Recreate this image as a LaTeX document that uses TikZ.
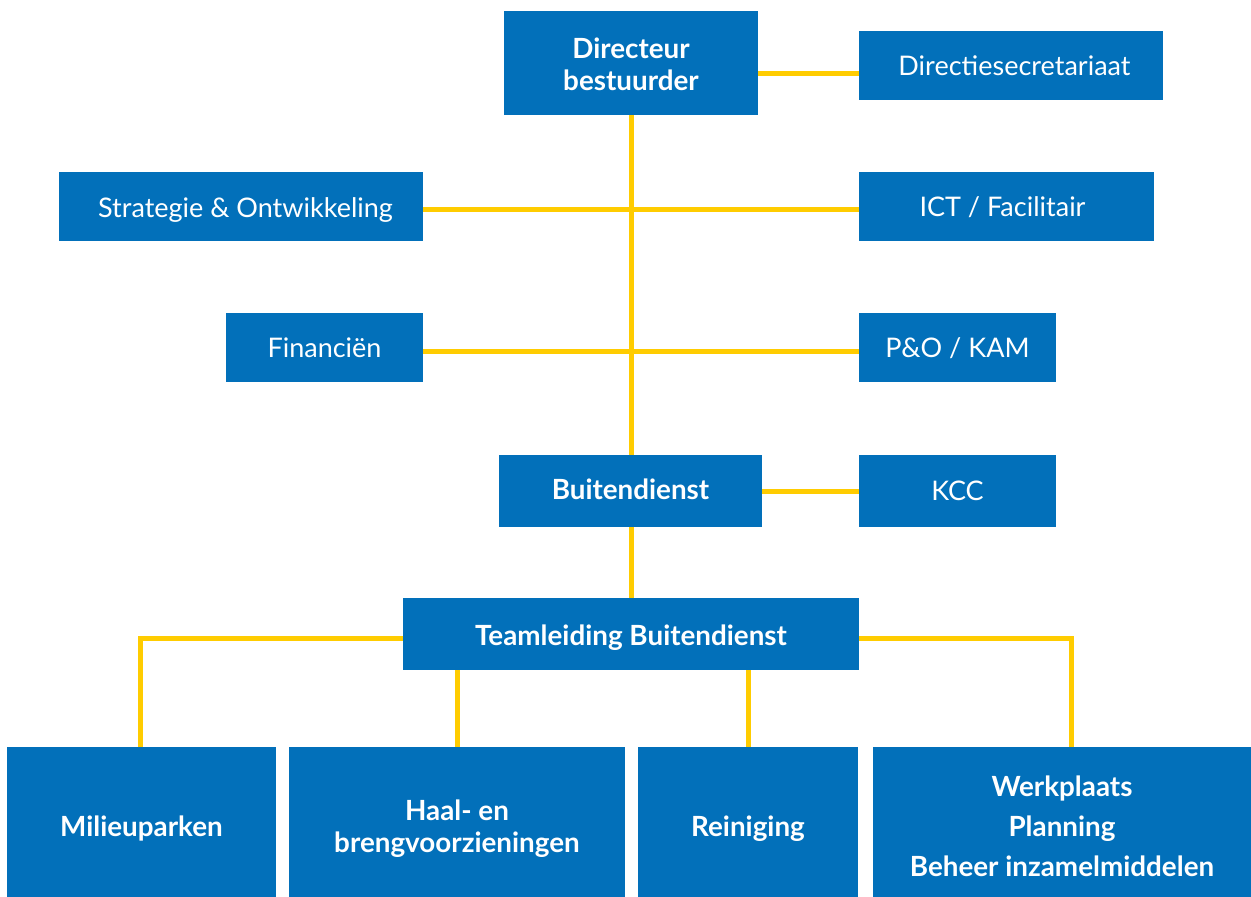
\documentclass[tikz,border=0pt]{standalone}
\usepackage{fontspec}
\setmainfont{Lato}
\definecolor{boxblue}{HTML}{0270BA}
\definecolor{lineyellow}{HTML}{FFCC00}
% \bxt{dx}{down}{lines}: text block shifted right by dx and down by 'down'
\newcommand\bxt[3]{\kern#1pt\raisebox{-#2pt}[\height][\depth]{\begin{tabular}{@{}c@{}}#3\end{tabular}}\kern-#1pt}
\begin{document}
\begin{tikzpicture}[x=1pt,y=-1pt,
  box/.style={fill=boxblue,text=white,inner sep=0pt,align=center,font=\fontsize{27}{32}\selectfont},
  bbox/.style={box,font=\fontsize{27.8}{32}\selectfont\bfseries},
  conn/.style={draw=lineyellow,line width=5pt}]
\useasboundingbox (0,0) rectangle (1251,897);
% boxes
\node[bbox,minimum width=254,minimum height=104] (dir) at (631,63) {\bxt{0}{5.2}{Directeur\\bestuurder}};
\node[box,minimum width=304,minimum height=69] (sec) at (1011,65.5) {\bxt{3.5}{3.5}{Directiesecretariaat}};
\node[box,minimum width=364,minimum height=69] (str) at (241,206.5) {\bxt{4.5}{4.6}{Strategie \& Ontwikkeling}};
\node[box,minimum width=295,minimum height=69] (ict) at (1006.5,206.5) {\bxt{-4}{3.5}{ICT / Facilitair}};
\node[box,minimum width=197,minimum height=69] (fin) at (324.5,347.5) {\bxt{0}{3.5}{Financiën}};
\node[box,minimum width=197,minimum height=69] (po) at (957.5,347.5) {\bxt{0}{3.5}{P\&O / KAM}};
\node[bbox,minimum width=263,minimum height=72] (bui) at (630.5,491) {\bxt{0}{2.5}{Buitendienst}};
\node[box,minimum width=197,minimum height=72] (kcc) at (957.5,491) {\bxt{0}{3.5}{KCC}};
\node[bbox,minimum width=456,minimum height=72] (tl) at (631,634) {\bxt{0}{5.4}{Teamleiding Buitendienst}};
\node[bbox,minimum width=269,minimum height=150] (mil) at (141.5,822) {\bxt{0}{8.4}{Milieuparken}};
\node[bbox,minimum width=336,minimum height=150] (haal) at (457,822) {\bxt{0}{8.2}{Haal- en\\brengvoorzieningen}};
\node[bbox,minimum width=220,minimum height=150] (rei) at (748,822) {\bxt{0}{8.4}{Reiniging}};
\node[bbox,minimum width=378,minimum height=150,font=\fontsize{27.8}{40}\selectfont\bfseries] (wp) at (1062,822) {\bxt{0}{6.8}{Werkplaats\\Planning\\Beheer inzamelmiddelen}};
% connectors
\draw[conn] (dir.south) -- (dir.south |- bui.north);
\draw[conn] (dir.south |- bui.south) -- (dir.south |- tl.north);
\draw[conn] (dir.east |- 0,73) -- (sec.west |- 0,73);
\draw[conn] (str.east |- 0,209) -- (ict.west |- 0,209);
\draw[conn] (fin.east |- 0,351) -- (po.west |- 0,351);
\draw[conn] (bui.east) -- (kcc.west);
\draw[conn] (tl.west |- 0,638.5) -| (mil.north -| 140,0);
\draw[conn] (tl.east |- 0,638.5) -| (wp.north -| 1071,0);
\draw[conn] (tl.south -| 457,0) -- (haal.north);
\draw[conn] (tl.south -| 748,0) -- (rei.north);
\end{tikzpicture}
\end{document}
